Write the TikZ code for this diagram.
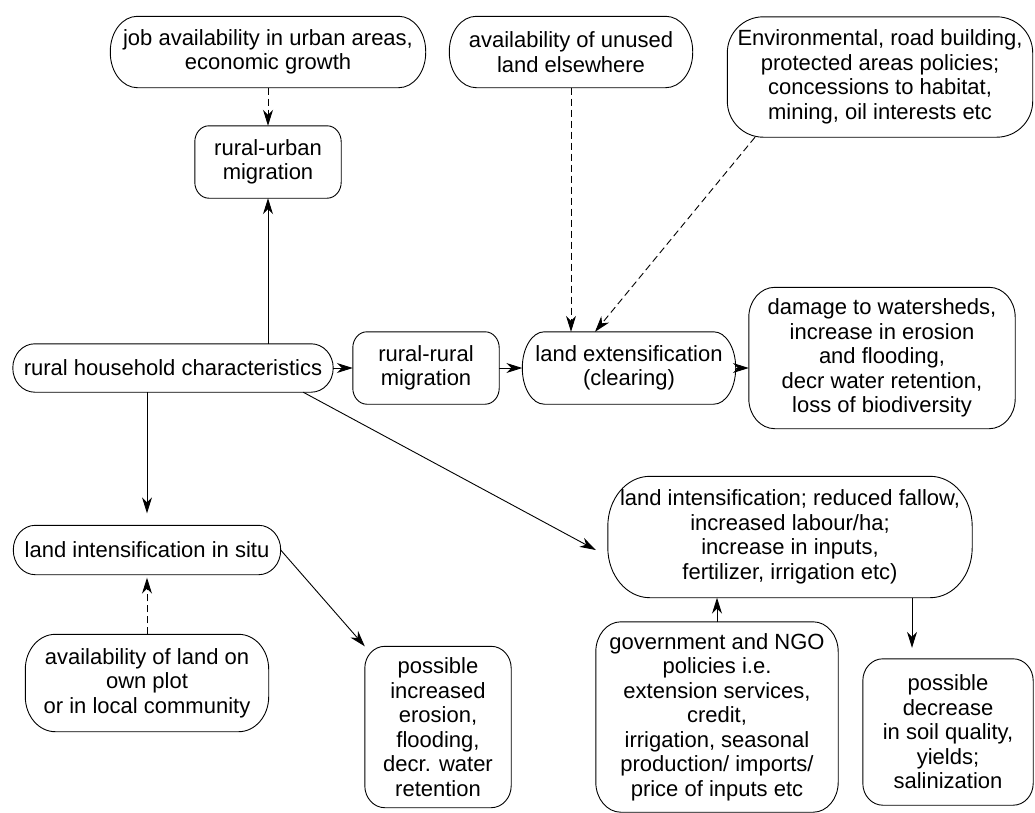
\documentclass[tikz,border=0pt]{standalone}
\usepackage{fontspec}
\setmainfont{Liberation Sans}
\usetikzlibrary{arrows.meta,calc}
\newcommand\pillbox[3]{%
  \draw[line width=0.9pt] ([xshift=#2]#1.north west) -- ([xshift=-#2]#1.north east)
    arc[start angle=90,end angle=0,x radius=#2,y radius=#3]
    -- ([yshift=#3]#1.south east)
    arc[start angle=0,end angle=-90,x radius=#2,y radius=#3]
    -- ([xshift=#2]#1.south west)
    arc[start angle=270,end angle=180,x radius=#2,y radius=#3]
    -- ([yshift=-#3]#1.north west)
    arc[start angle=180,end angle=90,x radius=#2,y radius=#3] -- cycle;}
\begin{document}
\begin{tikzpicture}[x=1pt,y=-1pt,
  box/.style={align=center, inner sep=0pt,
    font=\fontsize{22}{24.5}\selectfont},
  arr/.style={-{Stealth[length=16pt,width=10pt,inset=5pt]}, line width=0.9pt},
  dsh/.style={arr, dash pattern=on 7pt off 4pt}]
\useasboundingbox (0,0) rectangle (1035,812);
\node[box, minimum width=315pt, minimum height=71pt] (job) at (268,52)
  {job availability in urban areas,\\ economic growth};
\node[box, minimum width=243pt, minimum height=71pt] (un) at (571,52)
  {availability of unused\\ land elsewhere};
\node[box, minimum width=305pt, minimum height=120pt] (env) at (880,77)
  {Environmental, road building,\\ protected areas policies;\\ concessions to habitat,\\ mining, oil interests etc};
\node[box, minimum width=146pt, minimum height=72pt] (ru) at (268,162)
  {rural-urban\\ migration};
\node[box, minimum width=320pt, minimum height=48pt] (hh) at (173,368)
  {rural household characteristics};
\node[box, minimum width=146pt, minimum height=72pt] (rr) at (426,368)
  {rural-rural\\ migration};
\node[box, minimum width=213pt, minimum height=72pt] (le) at (629,368)
  {land extensification\\ (clearing)};
\node[box, minimum width=266pt, minimum height=141pt] (dam) at (882,358)
  {damage to watersheds,\\ increase in erosion\\ and flooding,\\ decr water retention,\\ loss of biodiversity};
\node[box, minimum width=267pt, minimum height=49pt] (lis) at (147,550)
  {land intensification in situ};
\node[box, minimum width=243pt, minimum height=97pt] (own) at (147,683)
  {availability of land on\\ own plot\\ or in local community};
\node[box, minimum width=146pt, minimum height=161pt] (pie) at (438,727)
  {possible\\ increased\\ erosion,\\ flooding,\\ decr. water\\ retention};
\node[box, minimum width=364pt, minimum height=121pt] (li) at (790,537)
  {land intensification; reduced fallow,\\ increased labour/ha;\\ increase in inputs,\\ fertilizer, irrigation etc)};
\node[box, minimum width=242pt, minimum height=190pt] (gov) at (717,717)
  {government and NGO\\ policies i.e.\\ extension services,\\ credit,\\ irrigation, seasonal\\ production/ imports/\\ price of inputs etc};
\node[box, minimum width=170pt, minimum height=146pt] (pd) at (948,732)
  {possible\\ decrease\\ in soil quality,\\ yields;\\ salinization};
% box outlines
\pillbox{job}{27pt}{35pt}
\pillbox{un}{27pt}{35pt}
\pillbox{env}{36pt}{36pt}
\pillbox{ru}{14pt}{16pt}
\pillbox{hh}{22pt}{24pt}
\pillbox{rr}{14pt}{16pt}
\pillbox{le}{22pt}{36pt}
\pillbox{dam}{26pt}{30pt}
\pillbox{lis}{22pt}{24.5pt}
\pillbox{own}{30pt}{35pt}
\pillbox{pie}{20pt}{22pt}
\pillbox{li}{42pt}{50pt}
\pillbox{gov}{25pt}{30pt}
\pillbox{pd}{20pt}{22pt}
% connectors
\draw[dsh] (job) -- (ru);
\draw[arr] (hh.north -| ru) -- (ru.south);
\draw[arr] (hh) -- (rr);
\draw[arr] (rr) -- (le);
\draw[arr] (le.east) -- (le.east -| dam.west);
\draw[dsh] (un) -- (un |- le.north);
\draw[dsh] ($(env.south)+(-125,0)$) -- ($(le.north)+(-34,0)$);
\draw[arr, shorten >=12pt] (hh.south -| lis) -- (lis.north);
\draw[arr] ($(hh.south east)+(-30,0)$) -- ($(li.west)+(-12,13)$);
\draw[arr] (lis.east) -- (pie.north west);
\draw[dsh, shorten >=3pt] (own.north) -- (lis.south);
\draw[arr] (gov.north) -- (gov.north |- li.south);
\coordinate (liout) at ($(li.south)+(122,0)$);
\draw[arr, shorten >=11pt] (liout) -- (liout |- pd.north);
\end{tikzpicture}
\end{document}
